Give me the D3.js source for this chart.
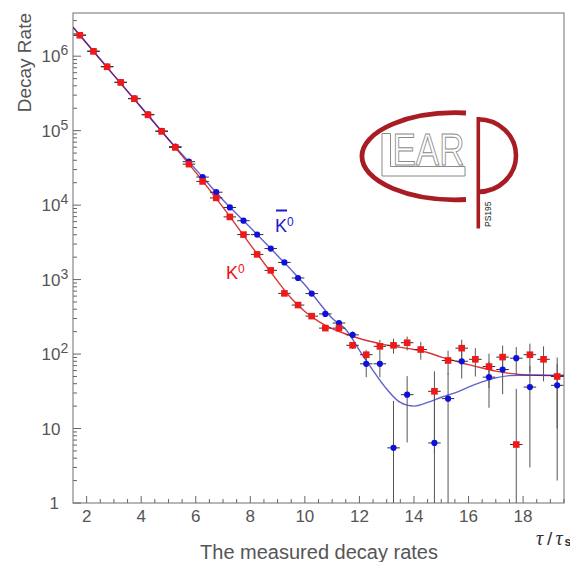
<!DOCTYPE html>
<html><head><meta charset="utf-8">
<script src="https://cdn.jsdelivr.net/npm/d3@7"></script>
<style>body{margin:0;background:#fff}svg{display:block}</style>
</head><body><svg id="c" width="570" height="562"></svg>
<script>
// ---- data ----
const binCenters = [1.75,2.25,2.75,3.25,3.75,4.25,4.75,5.25,5.75,6.25,6.75,7.25,7.75,8.25,8.75,9.25,9.75,10.25,10.75,11.25,11.75,12.25,12.75,13.25,13.75,14.25,14.75,15.25,15.75,16.25,16.75,17.25,17.75,18.25,18.75,19.25];
const k0Rate = [1.91e6,1.16e6,7.2e5,4.44e5,2.68e5,1.63e5,9.76e4,5.95e4,3.55e4,2.08e4,1.25e4,6950,4020,2180,1330,653,455,323,223,223,131,98,127,131,142,115,31.6,82,120,85,68,91,6.1,98,85,50];
const k0Err = [1400,1100,850,670,520,400,310,245,190,145,112,84,64,47,37,26,22,18,16,16,14,15,28,30,30,31,27,29,36,35,33,39,28,40,42,40];
const k0barRate = [1.92e6,1.17e6,7.25e5,4.47e5,2.71e5,1.65e5,9.9e4,6.1e4,3.83e4,2.38e4,1.49e4,9300,6180,4020,2610,1700,1050,649,346,261,181,74,74,5.5,28.5,null,6.4,25.2,80,null,49,62,88,36,null,38];
const k0barErr = [1400,1100,850,670,520,400,310,245,195,155,122,96,79,63,51,41,32,25,19,18,20,25,25,18,22,null,25,30,33,null,30,33,36,33,null,36];
const fitX = [1.5,2,3,4,5,6,7,8,9,9.5,10,10.5,11,11.5,12,12.5,13,13.5,14,14.5,15,15.5,16,16.5,17,17.5,18,18.5,19,19.5];
const k0Fit = [2.45e6,1.49e6,5.53e5,2.06e5,7.62e4,2.75e4,9330,2950,955,562,372,275,219,186,162,145,132,123,115,105,91,81,72,65,59,55,53,52,51.3,50.7];
const k0barFit = [2.45e6,1.49e6,5.53e5,2.06e5,7.67e4,3.02e4,1.17e4,5010,2090,1350,851,501,302,214,112,60,33.9,22.4,20,22.4,26.3,30.2,35.9,42.2,47.9,51.3,51.9,51.9,51.9,51.9];
const xTicks = [2,4,6,8,10,12,14,16,18];
const yTickValues = [1,10,100,1000,10000,100000,1000000];
const yTickBase = ["1","10","10","10","10","10","10"];
const yTickExp = ["","","2","3","4","5","6"];

// ---- layout ----
const L = 73, R = 564, T = 13, B = 503;
const svg = d3.select("#c");
const x = d3.scaleLinear().domain([1.5, 19.5]).range([L, R]);
const y = d3.scaleLog().domain([1, 3.8e6]).range([B, T]);
const axisCol = "#666", txtCol = "#555";
const font = "'Liberation Sans', Arial, sans-serif";

svg.append("rect").attr("width",570).attr("height",562).attr("fill","#fff");

const defs = svg.append("defs");
defs.append("clipPath").attr("id","plot").append("rect")
  .attr("x",L).attr("y",T).attr("width",R-L).attr("height",B-T);

// frame
svg.append("rect").attr("x",L).attr("y",T).attr("width",R-L).attr("height",B-T)
  .attr("fill","none").attr("stroke","#888").attr("stroke-width",1.2);

// x ticks
const gx = svg.append("g");
d3.range(2, 19.51, 0.5).forEach(v => {
  const major = xTicks.includes(v);
  gx.append("line").attr("x1",x(v)).attr("x2",x(v)).attr("y1",B).attr("y2",B-(major?7:4))
    .attr("stroke",axisCol).attr("stroke-width",1);
});
xTicks.forEach(v => {
  gx.append("text").attr("x",x(v)).attr("y",B+19).attr("text-anchor","middle")
    .attr("font-family",font).attr("font-size",17).attr("fill",txtCol).text(v);
});

// y ticks
const gy = svg.append("g");
for (let e = 0; e < 7; e++) {
  for (let m = 1; m <= 9; m++) {
    const v = m * Math.pow(10, e);
    if (v > 3.8e6) continue;
    gy.append("line").attr("x1",L).attr("x2",L+(m===1?8:4)).attr("y1",y(v)).attr("y2",y(v))
      .attr("stroke",axisCol).attr("stroke-width",1);
  }
}
yTickValues.forEach((v,i) => {
  const t = gy.append("text").attr("y",y(v)+6).attr("font-family",font).attr("font-size",17).attr("fill",txtCol);
  if (yTickBase[i] === "1") {
    t.attr("x",59).attr("text-anchor","end").text("1");
  } else {
    t.attr("x",41.5);
    t.append("tspan").text(yTickBase[i]);
    if (yTickExp[i]) t.append("tspan").attr("dy",-7).attr("font-size",14).text(yTickExp[i]);
  }
});

// axis titles
svg.append("text").attr("transform","translate(31,13) rotate(-90)").attr("text-anchor","end")
  .attr("font-family",font).attr("font-size",19).attr("fill",txtCol).text("Decay Rate");
svg.append("text").attr("x",319).attr("y",559).attr("text-anchor","middle")
  .attr("font-family",font).attr("font-size",20).attr("fill",txtCol).text("The measured decay rates");
const tau = svg.append("text").attr("y",545)
  .attr("font-family","'Liberation Serif', serif").attr("font-style","italic").attr("font-size",20).attr("fill","#333");
tau.append("tspan").attr("x",536).text("τ");
tau.append("tspan").attr("x",547).attr("font-family",font).attr("font-style","normal").attr("font-size",19).text("/");
tau.append("tspan").attr("x",555.5).text("τ");
tau.append("tspan").attr("x",564.5).attr("font-family",font).attr("font-style","normal").attr("font-size",12).attr("font-weight","bold").attr("dy",1).text("s");

// ---- logo ----
const logo = svg.append("g");
const red2 = "#a81c24";
logo.append("path").attr("d","M466,113 A94,43.5 0 1,0 466,199.5")
  .attr("fill","none").attr("stroke",red2).attr("stroke-width",4.8);
logo.append("line").attr("x1",478.3).attr("x2",478.3).attr("y1",117).attr("y2",228.5)
  .attr("stroke",red2).attr("stroke-width",3.6);
logo.append("path").attr("d","M478,119.3 A38,36.3 0 0,1 478,191.9")
  .attr("fill","none").attr("stroke",red2).attr("stroke-width",4.6);
logo.append("text").attr("transform","translate(491,227) rotate(-90)")
  .attr("font-family",font).attr("font-size",8.5).attr("fill","#222").text("PS195");
logo.append("path").attr("d","M382,133.5 L382,176 L465,176 L465,166.5 L390.5,166.5 L390.5,133.5 Z")
  .attr("fill","#fff").attr("stroke","#8a8a8a").attr("stroke-width",1);
logo.append("text").attr("x",392.5).attr("y",165).attr("textLength",72).attr("lengthAdjust","spacingAndGlyphs")
  .attr("font-family","'Liberation Sans Narrow', 'Liberation Sans', sans-serif").attr("font-size",44)
  .attr("fill","#fff").attr("stroke","#8a8a8a").attr("stroke-width",1).text("EAR");

// ---- fit curves ----
const plot = svg.append("g").attr("clip-path","url(#plot)");
const line = d3.line().x((d,i)=>x(fitX[i])).y(d=>y(d)).curve(d3.curveCatmullRom.alpha(0.5));
plot.append("path").attr("d",line(k0Fit)).attr("fill","none").attr("stroke","#dc3232").attr("stroke-width",1.4);
plot.append("path").attr("d",line(k0barFit)).attr("fill","none").attr("stroke","#1e1eb4").attr("stroke-opacity",0.7).attr("stroke-width",1.4);

// ---- error bars & markers ----
const halfBin = 0.23;
function drawSeries(rates, errs) {
  const g = plot.append("g");
  rates.forEach((v,i) => {
    if (v == null) return;
    const xc = x(binCenters[i]);
    g.append("line").attr("x1",x(binCenters[i]-halfBin)).attr("x2",x(binCenters[i]+halfBin))
      .attr("y1",y(v)).attr("y2",y(v)).attr("stroke","#333").attr("stroke-width",1);
    const e = errs[i];
    const lo = v - e > 0 ? y(v - e) : B;
    g.append("line").attr("x1",xc).attr("x2",xc).attr("y1",y(v+e)).attr("y2",lo)
      .attr("stroke","#555").attr("stroke-width",1);
  });
  return g;
}
drawSeries(k0barRate, k0barErr);
drawSeries(k0Rate, k0Err);
const mk = plot.append("g");
k0barRate.forEach((v,i) => {
  if (v == null) return;
  mk.append("circle").attr("cx",x(binCenters[i])).attr("cy",y(v)).attr("r",3.1).attr("fill","#1010dd");
});
k0Rate.forEach((v,i) => {
  mk.append("rect").attr("x",x(binCenters[i])-3.3).attr("y",y(v)-3.3).attr("width",6.6).attr("height",6.6).attr("fill","#f01818");
});

// ---- labels ----
const kb = svg.append("text").attr("x",275).attr("y",232).attr("font-family",font).attr("font-size",18).attr("fill","#1a1ad0");
kb.append("tspan").text("K");
kb.append("tspan").attr("dy",-6).attr("font-size",12).text("0");
svg.append("line").attr("x1",276).attr("x2",287).attr("y1",210.5).attr("y2",210.5).attr("stroke","#1a1ad0").attr("stroke-width",2);
const kr = svg.append("text").attr("x",226).attr("y",278.5).attr("font-family",font).attr("font-size",18).attr("fill","#ee1111");
kr.append("tspan").text("K");
kr.append("tspan").attr("dy",-6).attr("font-size",12).text("0");
</script></body></html>
